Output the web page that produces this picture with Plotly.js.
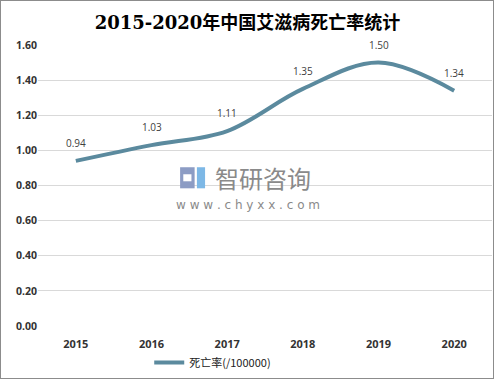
<!DOCTYPE html>
<html>
<head>
<meta charset="utf-8">
<script src="https://cdn.plot.ly/plotly-3.0.1.min.js"></script>
<style>
html,body{margin:0;padding:0;background:#fff;}
#wrap{position:relative;width:495px;height:380px;}
#chart{width:495px;height:380px;}
#frame{position:absolute;left:0;top:0;width:492px;height:377px;border:1px solid #8c8c8c;pointer-events:none;}
</style>
</head>
<body>
<div id="wrap"><div id="chart"></div><div id="frame"></div></div>
<script>
const years = ['2015','2016','2017','2018','2019','2020'];
const deathRate = [0.94, 1.03, 1.11, 1.35, 1.50, 1.34];
const seriesName = '死亡率(/100000)';
const titleText = '2015-2020年中国艾滋病死亡率统计';
const yTicks = [0, 0.2, 0.4, 0.6, 0.8, 1.0, 1.2, 1.4, 1.6];

const xIdx = years.map((_, i) => i);

const trace = {
  x: xIdx, y: deathRate, name: seriesName, type: 'scatter', mode: 'lines',
  line: {shape: 'spline', smoothing: 1, color: '#5b8a9e', width: 4},
  hoverinfo: 'none'
};

const labelAnn = xIdx.map(i => ({
  x: i, y: deathRate[i], xref: 'x', yref: 'y', text: deathRate[i].toFixed(2),
  showarrow: false, yshift: 18, font: {family: 'Open Sans, DejaVu Sans, sans-serif', size: 10, color: '#404040'}
}));

const watermark = [
  {xref: 'paper', yref: 'paper', x: 0.495, y: 0.53, text: '智研咨询', showarrow: false,
   font: {family: 'Noto Sans CJK SC, sans-serif', size: 24, color: '#8a8a8a'}},
  {xref: 'paper', yref: 'paper', x: 0.462, y: 0.43, text: 'w w w . c h y x x . c o m', showarrow: false,
   font: {family: 'DejaVu Sans, sans-serif', size: 12, color: '#8a8a8a'}}
];

const logo = [
  {type: 'rect', xref: 'paper', yref: 'paper', x0: 0.313, x1: 0.345, y0: 0.49, y1: 0.565,
   fillcolor: '#8c9cc4', line: {width: 0}, layer: 'above'},
  {type: 'rect', xref: 'paper', yref: 'paper', x0: 0.35, x1: 0.368, y0: 0.49, y1: 0.565,
   fillcolor: '#7db8e6', line: {width: 0}, layer: 'above'},
  {type: 'rect', xref: 'paper', yref: 'paper', x0: 0.32, x1: 0.338, y0: 0.515, y1: 0.54,
   fillcolor: '#ffffff', line: {width: 0}, layer: 'above'}
];

const layout = {
  width: 495, height: 380,
  margin: {l: 38, r: 3, t: 45, b: 54},
  paper_bgcolor: '#fff', plot_bgcolor: '#fff',
  title: {text: '<b>' + titleText + '</b>', x: 0.5, xanchor: 'center', y: 0.94, yanchor: 'middle',
    font: {family: 'DejaVu Serif, Noto Sans CJK SC, serif', size: 18, color: '#000'}},
  xaxis: {type: 'linear', range: [-0.5, 5.5], tickvals: xIdx, ticktext: years,
    showgrid: false, zeroline: false, showline: false, ticks: '',
    tickfont: {family: 'Open Sans, DejaVu Sans, sans-serif', size: 11, color: '#333', weight: 'bold'},
    ticklabelstandoff: 10, fixedrange: true},
  yaxis: {range: [0, 1.6], tickvals: yTicks, ticktext: yTicks.map(v => v.toFixed(2)),
    showgrid: true, gridcolor: '#d9d9d9', gridwidth: 1, zeroline: false, showline: false, ticks: '',
    tickfont: {family: 'Open Sans, DejaVu Sans, sans-serif', size: 10.5, color: '#333', weight: 'bold'},
    fixedrange: true},
  showlegend: true,
  legend: {orientation: 'h', x: 0.245, xanchor: 'left', y: -0.13, yanchor: 'middle',
    font: {family: 'Noto Sans CJK SC, sans-serif', size: 11, color: '#222'}},
  annotations: labelAnn.concat(watermark),
  shapes: logo
};

Plotly.newPlot('chart', [trace], layout, {displayModeBar: false, staticPlot: true});
</script>
</body>
</html>
